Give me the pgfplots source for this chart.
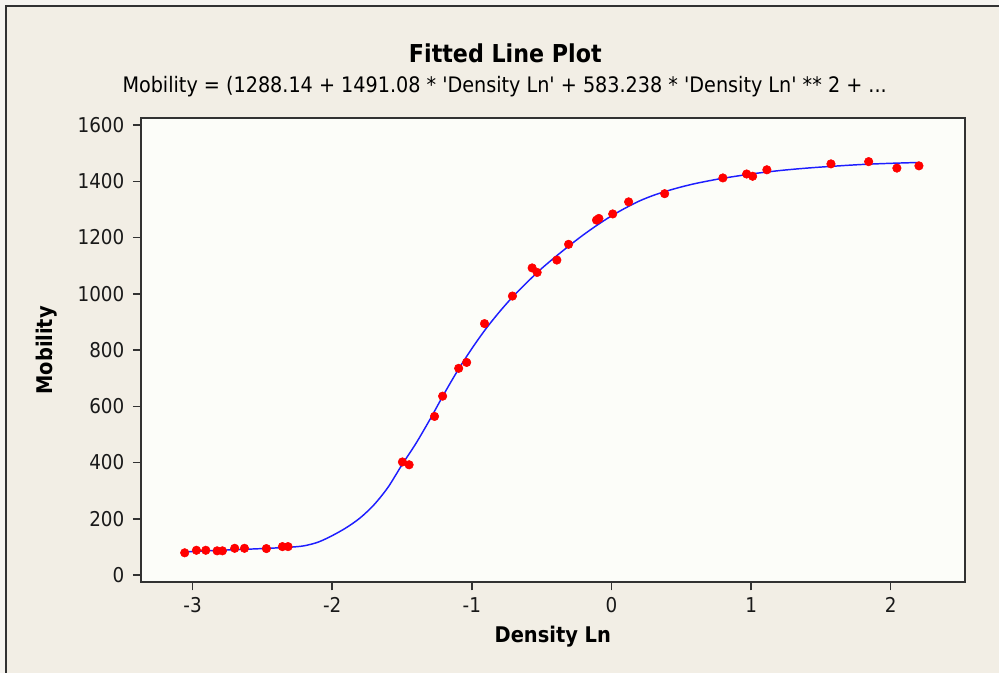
\documentclass[border=0pt]{standalone}
\usepackage{fontspec}
\setmainfont{DejaVu Sans Condensed}
\newfontfamily\subfont{DejaVu Sans Condensed}[Ligatures=TeXOff]
\usepackage{pgfplots}
\pgfplotsset{compat=1.18}
\definecolor{bgbeige}{RGB}{242,238,229}
\definecolor{outer}{RGB}{246,244,240}
\definecolor{plotbg}{RGB}{252,253,249}
\definecolor{frame}{RGB}{50,50,50}
\definecolor{fitblue}{RGB}{30,30,255}
\definecolor{ptred}{RGB}{255,0,0}

\pgfplotstableread{
x y
-3.056 79
-2.972 88
-2.905 88
-2.824 86
-2.786 86
-2.698 95
-2.628 95
-2.471 94
-2.356 101
-2.316 101
-1.497 402
-1.449 392
-1.267 564
-1.209 636
-1.094 735
-1.037 756
-0.909 894
-0.709 992
-0.568 1092
-0.532 1076
-0.391 1120
-0.307 1176
-0.107 1262
-0.090 1268
0.009 1284
0.123 1327
0.381 1356
0.798 1412
0.968 1426
1.011 1418
1.113 1441
1.572 1462
1.842 1470
2.044 1447
2.202 1455
}\obsdata

\begin{document}
\begin{tikzpicture}
% page background and window frame
\fill[outer] (0,0) rectangle (749.25pt,504.75pt);
\fill[bgbeige] (5.25pt,0) rectangle (749.25pt,499.5pt);
\draw[frame, line width=1.5pt] (4.5pt,0) -- (4.5pt,500.4pt) -- (749.25pt,500.4pt);

\node[font=\fontsize{18.5}{22}\selectfont\bfseries] at (379pt,464.5pt) {Fitted Line Plot};
\node[font=\subfont\fontsize{16}{19}\selectfont] at (378.5pt,440pt)
  {Mobility = (1288.14 + 1491.08 * 'Density Ln' + 583.238 * 'Density Ln' ** 2 + ...};

\begin{axis}[
  at={(105.75pt,68pt)}, anchor=south west,
  scale only axis,
  width=617.7pt, height=348pt,
  xmin=-3.369, xmax=2.529,
  ymin=-26, ymax=1624,
  xtick={-3,-2,-1,0,1,2},
  ytick={0,200,400,600,800,1000,1200,1400,1600},
  xtick pos=bottom, ytick pos=left,
  tick align=outside,
  major tick length=6pt,
  every tick/.style={frame, line width=1.1pt},
  axis line style={frame, line width=1.5pt},
  axis background/.style={fill=plotbg},
  tick label style={font=\fontsize{15.3}{18}\selectfont, text=black!90},
  xticklabel style={yshift=-2pt},
  yticklabel style={xshift=-3pt},
  /pgf/number format/assume math mode=true,
  /pgf/number format/1000 sep={},
  xlabel={Density Ln},
  ylabel={Mobility},
  label style={font=\fontsize{16.2}{19}\selectfont\bfseries},
  xlabel style={at={(axis description cs:0.5,-0.116)}, anchor=center},
  ylabel style={at={(axis description cs:-0.114,0.5)}, anchor=center, rotate=0},
]
\addplot[fitblue, line width=1.1pt, smooth] coordinates {
  (-3.06,82) (-2.9,86) (-2.7,90) (-2.5,94) (-2.3,99) (-2.2,104) (-2.1,117)
  (-2.0,140) (-1.9,168) (-1.8,203) (-1.7,250) (-1.6,312) (-1.5,392)
  (-1.4,468) (-1.3,553) (-1.2,643) (-1.1,728) (-1.0,805) (-0.9,875)
  (-0.8,937) (-0.7,993) (-0.6,1043) (-0.5,1090) (-0.4,1132) (-0.3,1172)
  (-0.2,1210) (-0.1,1245) (0.0,1277) (0.1,1305) (0.2,1330) (0.3,1350)
  (0.4,1366) (0.5,1380) (0.6,1392) (0.7,1402) (0.8,1411) (1.0,1426)
  (1.2,1438) (1.4,1447) (1.6,1454) (1.8,1460) (2.0,1464) (2.2,1467)
};
\addplot[only marks, mark=*, mark size=3.2pt, mark options={fill=ptred, draw=ptred}] table[x=x, y=y] {\obsdata};
\end{axis}
\pgfresetboundingbox
\useasboundingbox (0,0) rectangle (749.25pt,504.75pt);
\end{tikzpicture}
\end{document}
